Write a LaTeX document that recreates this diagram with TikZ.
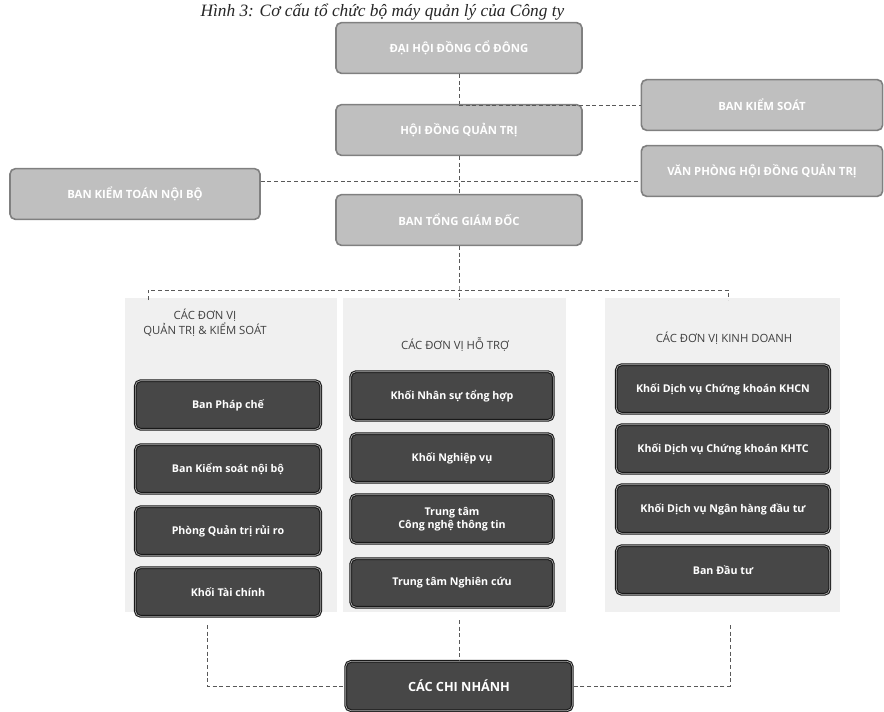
\documentclass[tikz,border=0pt]{standalone}
\usepackage{fontspec}
\setmainfont{Liberation Serif}
\setsansfont{Open Sans}

\tikzset{every picture/.style={line width=0.75pt}}
\tikzset{
  topbox/.style={rounded corners=4pt, fill=black!25, draw=black!50, line width=1.2pt, text=white,
    font=\sffamily\bfseries\fontsize{8.5}{10}\selectfont, minimum height=38pt, align=center, inner sep=2pt},
  unitbox/.style={rounded corners=4pt, fill=black!72, draw=black!90, double=black!30, double distance=0.5pt,
    line width=0.8pt, text=white, font=\sffamily\bfseries\fontsize{8}{10}\selectfont,
    minimum height=36.5pt, align=center, inner sep=2pt},
  panel/.style={fill=black!6},
  head/.style={text=black!75, font=\sffamily\fontsize{8.5}{10}\selectfont, align=center},
  link/.style={densely dashed, draw=black!65, line width=0.6pt},
}

\begin{document}
\begin{tikzpicture}[x=0.75pt,y=0.75pt,yscale=-1,xscale=1]
		\useasboundingbox (0,0) rectangle (884,711);
		\fill[white] (0,0) rectangle (884,711);
		
		% title
		\node[anchor=base west, inner sep=0pt, text=black!85, font=\itshape\fontsize{13}{15}\selectfont] (title) at (200,16) {Hình 3: Cơ cấu tổ chức bộ máy quản lý của Công ty};
		
		% panels
		\fill[panel] (125,298) rectangle (337,612);
		\fill[panel] (343,298) rectangle (566,612);
		\fill[panel] (605,298) rectangle (840,612);
		
		% top of the structure
		\node[topbox, minimum width=184.5pt] (dhdcd) at (459,48) {ĐẠI HỘI ĐỒNG CỔ ĐÔNG};
		\node[topbox, minimum width=181pt] (bks) at (762,105) {BAN KIỂM SOÁT};
		\node[topbox, minimum width=184.5pt] (hdqt) at (459,130) {HỘI ĐỒNG QUẢN TRỊ};
		\node[topbox, minimum width=187.5pt] (bktnb) at (135,194) {BAN KIỂM TOÁN NỘI BỘ};
		\node[topbox, minimum width=181pt] (vphdqt) at (762,171) {VĂN PHÒNG HỘI ĐỒNG QUẢN TRỊ};
		\node[topbox, minimum width=184.5pt] (btgd) at (459,220) {BAN TỔNG GIÁM ĐỐC};
		
		\coordinate (j1) at (459,105);
		\coordinate (j2) at (459,181);
		\coordinate (j3) at (459,290);
		\coordinate (jl) at (148,290);
		\coordinate (jr) at (728,290);
		
		\draw[link] (dhdcd) -- (hdqt);
		\draw[link] (j1) -- (bks.west);
		\draw[link] (hdqt) -- (btgd);
		\draw[link] (bktnb.east |- j2) -- (vphdqt.west |- j2);
		\draw[link] (btgd) -- (j3) -- ++(0,10);
		\draw[link] (jl) ++(0,10) -- (jl) -- (jr) -- ++(0,10);
		
		% headers
		\node[head] (h1) at (205,323) {CÁC ĐƠN VỊ\\QUẢN TRỊ \& KIỂM SOÁT};
		\node[head] (h2) at (455,345) {CÁC ĐƠN VỊ HỖ TRỢ};
		\node[head] (h3) at (724,338) {CÁC ĐƠN VỊ KINH DOANH};
		
		% quan tri & kiem soat
		\node[unitbox, minimum width=139pt] (bpc) at (228,405) {Ban Pháp chế};
		\node[unitbox, minimum width=139pt] (bksnb) at (228,469) {Ban Kiểm soát nội bộ};
		\node[unitbox, minimum width=139pt] (pqtrr) at (228,531) {Phòng Quản trị rủi ro};
		\node[unitbox, minimum width=139pt] (ktc) at (228,592) {Khối Tài chính};
		
		% ho tro
		\node[unitbox, minimum width=152pt] (knsth) at (452,396) {Khối Nhân sự tổng hợp};
		\node[unitbox, minimum width=152pt] (knv) at (452,458) {Khối Nghiệp vụ};
		\node[unitbox, minimum width=152pt] (ttcntt) at (452,519) {Trung tâm\\Công nghệ thông tin};
		\node[unitbox, minimum width=152pt] (ttnc) at (452,583) {Trung tâm Nghiên cứu};
		
		% kinh doanh
		\node[unitbox, minimum width=160pt] (khcn) at (723,389) {Khối Dịch vụ Chứng khoán KHCN};
		\node[unitbox, minimum width=160pt] (khtc) at (723,449) {Khối Dịch vụ Chứng khoán KHTC};
		\node[unitbox, minimum width=160pt] (knhdt) at (723,509) {Khối Dịch vụ Ngân hàng đầu tư};
		\node[unitbox, minimum width=160pt] (bdt) at (723,570) {Ban Đầu tư};
		
		% chi nhanh
		\node[unitbox, minimum width=170pt, minimum height=37pt, font=\sffamily\bfseries\fontsize{9.5}{11}\selectfont] (ccn) at (459,686) {CÁC CHI NHÁNH};
		
		\coordinate (k1) at (207,625);
		\coordinate (k2) at (459,620);
		\coordinate (k3) at (730,625);
		\draw[link] (k1) |- (ccn.west);
		\draw[link] (k2) -- (ccn.north);
		\draw[link] (k3) |- (ccn.east);
		
	\end{tikzpicture}
\end{document}
